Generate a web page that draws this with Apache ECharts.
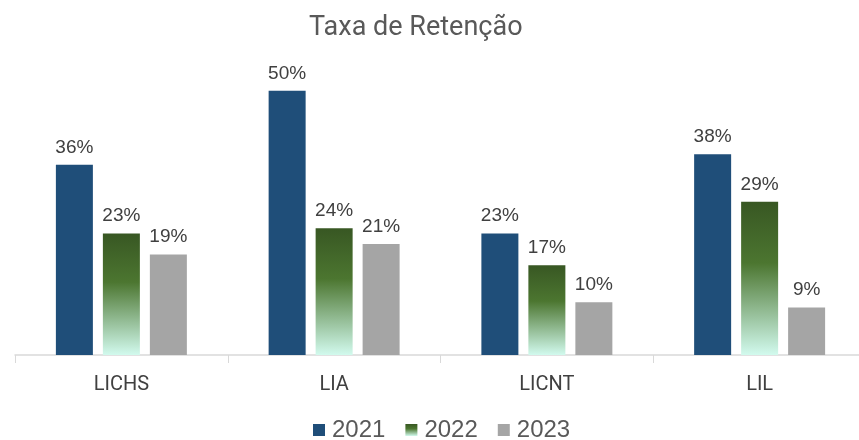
<!DOCTYPE html>
<html><head><meta charset="utf-8">
<script src="https://cdn.jsdelivr.net/npm/echarts@6/dist/echarts.min.js"></script>
<style>html,body{margin:0;padding:0;background:#fff;overflow:hidden}#c{width:880px;height:440px}</style>
</head><body><div id="c"></div>
<script>
const categories = ['LICHS', 'LIA', 'LICNT', 'LIL'];
const seriesNames = ['2021', '2022', '2023'];
const v2021 = [36, 50, 23, 38];
const v2022 = [23, 24, 17, 29];
const v2023 = [19, 21, 10, 9];

const green = new echarts.graphic.LinearGradient(0, 0, 0, 1, [
  {offset: 0, color: '#385723'},
  {offset: 0.4, color: '#4C7630'},
  {offset: 1, color: '#D2FAEE'}
]);
const label = {show: true, position: 'top', distance: 8, color: '#404040', fontSize: 19,
  fontFamily: 'Liberation Sans', formatter: p => p.value + '%'};
const chart = echarts.init(document.getElementById('c'), null, {renderer: 'canvas'});
chart.setOption({
  animation: false,
  title: {text: 'Taxa de Retenção', left: 304, top: 10,
    textStyle: {fontFamily: 'Roboto', fontWeight: 'normal', fontSize: 27, color: '#595959'}},
  legend: {top: 413, left: 308, itemWidth: 12, itemHeight: 12, itemGap: 20, icon: 'rect',
    textStyle: {fontFamily: 'Liberation Sans', fontSize: 24, color: '#595959', padding: [0, 0, 0, 2]},
    data: seriesNames},
  grid: {left: 15, width: 851, top: 38, bottom: 85},
  xAxis: {type: 'category', data: categories,
    axisLine: {lineStyle: {color: '#D9D9D9', width: 1.5}},
    axisTick: {show: true, length: 8, lineStyle: {color: '#D9D9D9'}},
    axisLabel: {fontFamily: 'Roboto', fontSize: 20, color: '#404040', margin: 20}},
  yAxis: {type: 'value', min: 0, max: 60, show: false, splitLine: {show: false}},
  series: [
    {name: seriesNames[0], type: 'bar', data: v2021, barWidth: 37, barGap: '27%', itemStyle: {color: '#1F4E79'}, label},
    {name: seriesNames[1], type: 'bar', data: v2022, barWidth: 37, barGap: '27%', itemStyle: {color: green}, label},
    {name: seriesNames[2], type: 'bar', data: v2023, barWidth: 37, barGap: '27%', itemStyle: {color: '#A5A5A5'}, label}
  ]
});
</script></body></html>
